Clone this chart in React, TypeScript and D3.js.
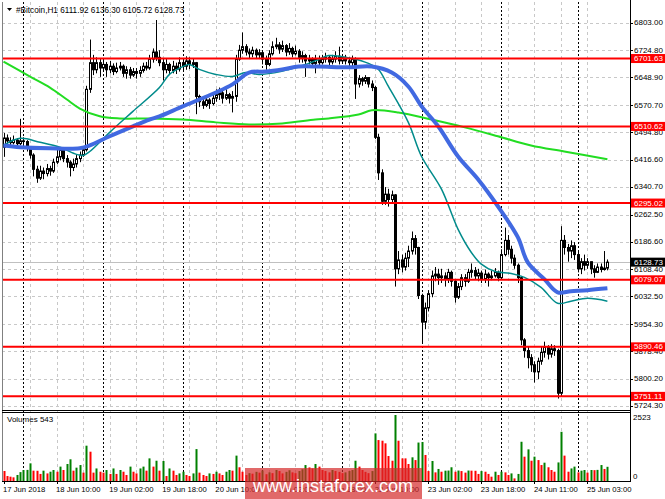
import React from 'react';
import * as d3 from 'd3';

// H1 candles, one bar per hour, 17 Jun 18:00 .. 25 Jun 09:00 (one bar missing on 24 Jun)
const firstOpen = 6452;
const closes = [
  6478, 6470, 6465, 6472, 6462, 6470, 6468, 6450, 6430, 6390,
  6365, 6385, 6378, 6392, 6385, 6410, 6425, 6445, 6420, 6410,
  6395, 6405, 6420, 6430, 6445, 6615, 6690, 6670, 6690, 6675,
  6685, 6670, 6680, 6665, 6675, 6680, 6660, 6670, 6655, 6665,
  6660, 6668, 6680, 6675, 6700, 6720, 6705, 6690, 6670, 6685,
  6668, 6680, 6672, 6690, 6680, 6695, 6685, 6690, 6595, 6580,
  6570, 6585, 6575, 6590, 6600, 6605, 6590, 6600, 6590, 6595,
  6700, 6725, 6735, 6720, 6715, 6725, 6712, 6718, 6700, 6685,
  6715, 6735, 6740, 6728, 6738, 6720, 6730, 6715, 6722, 6705,
  6710, 6695, 6700, 6688, 6700, 6690, 6700, 6705, 6692, 6700,
  6708, 6695, 6705, 6695, 6690, 6700, 6630, 6645, 6638, 6648,
  6630, 6620, 6480, 6380, 6300, 6320, 6305, 6318, 6110, 6135,
  6115, 6140, 6160, 6195, 6170, 6035, 5960, 6000, 6040, 6090,
  6095, 6085, 6090, 6080, 6100, 6075, 6030, 6060, 6085, 6075,
  6100, 6105, 6090, 6098, 6080, 6095, 6085, 6090, 6100, 6085,
  6150, 6190, 6165, 6140, 6120, 6085, 5910, 5880, 5860, 5840,
  5820, 5850, 5875, 5890, 5870, 5885, 5880, 5760, 6190, 6170,
  6160, 6175, 6150, 6110, 6130, 6120, 6130, 6110, 6100, 6115,
  6108, 6111.92, 6128.73,
];
const highs = [
  6492, 6488, 6480, 6485, 6478, 6532, 6480, 6472, 6455, 6435,
  6400, 6400, 6395, 6405, 6400, 6420, 6445, 6450, 6448, 6430,
  6415, 6420, 6430, 6440, 6455, 6625, 6755, 6712, 6705, 6700,
  6700, 6692, 6695, 6688, 6690, 6692, 6685, 6680, 6678, 6675,
  6675, 6680, 6690, 6692, 6712, 6730, 6810, 6725, 6700, 6700,
  6690, 6695, 6690, 6705, 6700, 6708, 6705, 6700, 6692, 6600,
  6595, 6598, 6590, 6605, 6615, 6620, 6612, 6615, 6605, 6610,
  6712, 6740, 6775, 6742, 6730, 6735, 6730, 6728, 6722, 6710,
  6725, 6750, 6760, 6748, 6752, 6742, 6745, 6735, 6738, 6728,
  6722, 6715, 6712, 6705, 6712, 6710, 6712, 6718, 6710, 6712,
  6722, 6735, 6712, 6712, 6705, 6710, 6705, 6655, 6650, 6655,
  6648, 6640, 6625, 6490, 6390, 6340, 6335, 6330, 6320, 6160,
  6150, 6155, 6175, 6215, 6205, 6172, 6040, 6015, 6050, 6105,
  6115, 6110, 6110, 6100, 6110, 6105, 6080, 6070, 6095, 6095,
  6110, 6125, 6115, 6110, 6105, 6108, 6100, 6105, 6112, 6105,
  6165, 6226, 6205, 6175, 6150, 6125, 6090, 5915, 5890, 5870,
  5850, 5860, 5890, 5905, 5895, 5898, 5895, 5885, 6230, 6205,
  6180, 6190, 6185, 6160, 6140, 6150, 6140, 6130, 6120, 6125,
  6125, 6160, 6136.3,
];
const lows = [
  6425, 6460, 6455, 6460, 6455, 6458, 6455, 6440, 6420, 6370,
  6352, 6360, 6362, 6370, 6372, 6380, 6405, 6415, 6410, 6395,
  6370, 6385, 6395, 6410, 6425, 6440, 6605, 6655, 6660, 6650,
  6665, 6650, 6660, 6655, 6660, 6668, 6650, 6645, 6645, 6650,
  6645, 6650, 6662, 6668, 6670, 6690, 6695, 6680, 6640, 6660,
  6655, 6660, 6658, 6665, 6668, 6670, 6672, 6675, 6545, 6565,
  6560, 6565, 6560, 6570, 6580, 6585, 6575, 6585, 6575, 6550,
  6580, 6695, 6715, 6710, 6700, 6705, 6700, 6700, 6685, 6670,
  6680, 6710, 6728, 6715, 6720, 6708, 6712, 6705, 6710, 6690,
  6690, 6650, 6685, 6675, 6660, 6678, 6685, 6690, 6680, 6685,
  6690, 6685, 6690, 6685, 6675, 6680, 6588, 6620, 6625, 6630,
  6620, 6610, 6475, 6360, 6290, 6290, 6285, 6295, 6060, 6095,
  6100, 6105, 6115, 6150, 6150, 6025, 5903, 5940, 5990, 6030,
  6075, 6065, 6070, 6060, 6070, 6060, 6015, 6025, 6050, 6060,
  6070, 6085, 6080, 6075, 6070, 6070, 6060, 6078, 6085, 6075,
  6080, 6145, 6150, 6125, 6110, 6070, 5895, 5860, 5830, 5820,
  5790, 5800, 5840, 5860, 5855, 5860, 5865, 5745, 5750, 6150,
  6130, 6140, 6135, 6100, 6095, 6105, 6110, 6095, 6085, 6098,
  6100, 6105, 6105.72,
];
const volumes = [
  382, 190, 165, 140, 230, 340, 420, 425, 675, 395,
  390, 270, 395, 290, 355, 420, 355, 550, 420, 650,
  830, 395, 510, 610, 320, 1350, 1120, 320, 480, 355,
  320, 420, 270, 480, 270, 420, 355, 230, 550, 355,
  290, 480, 550, 395, 865, 550, 775, 395, 765, 190,
  480, 395, 230, 290, 355, 230, 190, 290, 1220, 320,
  230, 190, 290, 270, 355, 290, 230, 355, 420, 395,
  970, 525, 355, 230, 300, 280, 350, 320, 400, 260,
  330, 300, 420, 380, 290, 350, 410, 330, 300, 380,
  450, 610, 520, 480, 650, 550, 420, 380, 330, 420,
  380, 350, 300, 330, 380, 420, 775, 550, 420, 350,
  300, 380, 1820, 1565, 1540, 1440, 955, 775, 2523, 1540,
  865, 865, 650, 905, 800, 1470, 1490, 995, 380, 765,
  330, 460, 355, 395, 400, 525, 355, 400, 380, 320,
  400, 395, 390, 270, 380, 355, 270, 165, 355, 230,
  355, 330, 230, 290, 100, 270, 1500, 930, 1210, 775,
  930, 800, 610, 700, 525, 420, 355, 710, 1880, 970,
  355, 480, 550, 330, 395, 420, 320, 420, 415, 425,
  610, 460, 543,
];

// moving averages as [bar, price]
const maSlow = [
  [0, 6693], [8, 6651], [14, 6620], [19, 6587], [23, 6561], [29, 6539], [35, 6533],
  [44, 6533], [54, 6530], [64, 6522], [74, 6516], [84, 6519], [94, 6530], [98, 6533],
  [107, 6544], [111, 6556], [119, 6550], [129, 6530], [139, 6508], [149, 6483],
  [159, 6457], [169, 6440], [182, 6418],
];
const maFast = [
  [0, 6457], [5, 6477], [11, 6466], [17, 6452], [22, 6432], [24, 6429], [26, 6440],
  [32, 6494], [39, 6553], [47, 6620], [50, 6657], [54, 6679], [56, 6685], [59, 6671],
  [64, 6657], [69, 6651], [73, 6662], [77, 6657], [82, 6662], [86, 6671], [91, 6685],
  [95, 6699], [98, 6710], [105, 6702], [110, 6688], [113, 6671], [116, 6623],
  [122, 6522], [126, 6426], [132, 6334], [137, 6221], [141, 6156], [144, 6123],
  [148, 6103], [153, 6097], [157, 6086], [162, 6058], [167, 6013], [171, 6019],
  [176, 6027], [182, 6019],
];
const maMid = [
  [0, 6457], [5, 6452], [14, 6449], [23, 6449], [26, 6457], [32, 6483], [39, 6511],
  [44, 6530], [47, 6539], [54, 6567], [64, 6606], [69, 6629], [74, 6662], [79, 6665],
  [84, 6671], [89, 6679], [95, 6679], [104, 6677], [111, 6679], [117, 6662],
  [122, 6623], [126, 6567], [131, 6511], [137, 6426], [143, 6362], [149, 6286],
  [155, 6199], [158, 6128], [163, 6081], [167, 6044], [171, 6047], [176, 6050],
  [182, 6055],
];

const priceTicks = [6803.0, 6724.8, 6648.9, 6570.7, 6494.8, 6416.6, 6340.7, 6262.5,
  6186.6, 6108.4, 6032.5, 5954.3, 5878.4, 5800.2, 5724.3];
const levels = [6701.63, 6510.62, 6295.02, 6079.07, 5890.46, 5751.11];
const lastPrice = 6128.73;
const timeLabelBars = [0, 16, 32, 48, 64, 80, 96, 112, 128, 144, 160, 176];
const timeLabels = ['17 Jun 2018', '18 Jun 10:00', '19 Jun 02:00', '19 Jun 18:00',
  '20 Jun 10:00', '21 Jun 02:00', '21 Jun 18:00', '22 Jun 10:00', '23 Jun 02:00',
  '23 Jun 18:00', '24 Jun 11:00', '25 Jun 03:00'];
const daySeparatorBars = [6, 30, 54, 78, 102, 126, 150, 173];
const volumeMax = 2523;

const W = 665;
const H = 499;
const left = 2;
const axisX = 630;
const priceTop = 2;
const priceBottom = 410;
const volTop = 412;
const volBottom = 481;
const font = '"Liberation Sans", Arial, sans-serif';

const App: React.FC = () => {
  const n = closes.length;
  const x = d3.scaleLinear().domain([0, n - 1]).range([3.5, 607.4]);
  const y = d3.scaleLinear().domain([5724.3, 6803]).range([405.9, 22.5]);
  const vy = d3.scaleLinear().domain([0, volumeMax]).range([volBottom, 415]);

  const candles = closes.map((c, i) => ({
    i, o: i === 0 ? firstOpen : closes[i - 1], h: highs[i], l: lows[i], c,
  }));

  const maLine = d3.line<number[]>()
    .x(d => x(d[0]))
    .y(d => y(d[1]))
    .curve(d3.curveCatmullRom.alpha(0.5));

  const gridBars = d3.range(8, n, 8);
  const px = (v: number) => Math.round(v) + 0.5;

  return (
    <svg width={W} height={H} style={{ position: 'absolute', left: 0, top: 0, background: '#fff' }}
      fontFamily={font}>
      <rect x={0} y={0} width={W} height={H} fill="#fff" />

      {/* grid */}
      <g stroke="#c8c8c8" strokeDasharray="3,3" strokeWidth={1}>
        {priceTicks.map(t => (
          <line key={t} x1={left} x2={axisX} y1={px(y(t))} y2={px(y(t))} />
        ))}
        {gridBars.map(b => (
          <line key={b} x1={px(x(b))} x2={px(x(b))} y1={priceTop} y2={volBottom} />
        ))}
      </g>
      <g stroke="#000" strokeDasharray="2,2" strokeWidth={1}>
        {daySeparatorBars.map(b => (
          <line key={b} x1={px(x(b))} x2={px(x(b))} y1={priceTop} y2={volBottom} />
        ))}
      </g>

      {/* current price line */}
      <line x1={left} x2={axisX} y1={px(y(lastPrice))} y2={px(y(lastPrice))} stroke="#c0c0c0" />

      {/* candles */}
      <g>
        {candles.map(d => {
          const cx = px(x(d.i));
          const top = y(Math.max(d.o, d.c));
          const bot = y(Math.min(d.o, d.c));
          const bull = d.c >= d.o;
          return (
            <g key={d.i}>
              <line x1={cx} x2={cx} y1={y(d.h)} y2={y(d.l)} stroke="#000" />
              <rect x={cx - 1} y={top} width={2} height={Math.max(bot - top, 0.5)}
                fill={bull ? '#fff' : '#000'} stroke="#000" strokeWidth={1} />
            </g>
          );
        })}
      </g>

      {/* moving averages */}
      <path d={maLine(maSlow) || ''} fill="none" stroke="#22dd22" strokeWidth={2} />
      <path d={maLine(maFast) || ''} fill="none" stroke="#008b8b" strokeWidth={1.5} />
      <path d={maLine(maMid) || ''} fill="none" stroke="#4169e1" strokeWidth={4} />

      {/* levels */}
      {levels.map(l => (
        <line key={l} x1={left} x2={axisX} y1={y(l)} y2={y(l)} stroke="#ff0000" strokeWidth={2} />
      ))}

      {/* volumes */}
      <g>
        {volumes.map((v, i) => (
          <rect key={i} x={Math.round(x(i)) - 0.5} y={vy(v)} width={2} height={volBottom - vy(v)}
            fill={i > 0 && v > volumes[i - 1] ? '#008000' : '#ff0000'} />
        ))}
      </g>

      {/* frames */}
      <g stroke="#000" fill="none" strokeWidth={1}>
        <line x1={left + 0.5} x2={left + 0.5} y1={priceTop} y2={volBottom} stroke="#808080" />
        <line x1={axisX + 0.5} x2={axisX + 0.5} y1={0} y2={volBottom + 0.5} />
        <line x1={left} x2={axisX} y1={priceBottom + 0.5} y2={priceBottom + 0.5} />
        <line x1={left} x2={axisX} y1={volTop + 0.5} y2={volTop + 0.5} />
        <line x1={left} x2={axisX + 1} y1={volBottom + 0.5} y2={volBottom + 0.5} />
      </g>

      {/* price axis */}
      <g fontSize={8} fill="#000">
        {priceTicks.map(t => (
          <g key={t}>
            <line x1={axisX} x2={axisX + 3} y1={px(y(t))} y2={px(y(t))} stroke="#000" />
            <text x={634} y={y(t)} dominantBaseline="central">{t.toFixed(2)}</text>
          </g>
        ))}
      </g>
      {levels.map(l => (
        <g key={l}>
          <rect x={631} y={y(l) - 4.5} width={34} height={9} fill="#ff0000" />
          <text x={634} y={y(l)} dominantBaseline="central" fontSize={8} fill="#fff">{l.toFixed(2)}</text>
        </g>
      ))}
      <rect x={631} y={y(lastPrice) - 4.5} width={34} height={9} fill="#000" />
      <text x={634} y={y(lastPrice)} dominantBaseline="central" fontSize={8} fill="#fff">
        {lastPrice.toFixed(2)}
      </text>

      {/* volume axis */}
      <text x={633} y={417} dominantBaseline="central" fontSize={8}>{volumeMax}</text>
      <text x={633} y={476} dominantBaseline="central" fontSize={8}>0</text>
      <text x={7} y={419} dominantBaseline="central" fontSize={8}>Volumes {volumes[n - 1]}</text>

      {/* time axis */}
      <g fontSize={7.7}>
        {timeLabelBars.map((b, k) => (
          <g key={b}>
            <line x1={px(x(b))} x2={px(x(b))} y1={volBottom} y2={volBottom + 3} stroke="#000" />
            <text x={x(b) - 0.5} y={489} dominantBaseline="central">{timeLabels[k]}</text>
          </g>
        ))}
      </g>

      {/* header */}
      <path d="M7,8 L12,8 L9.5,11 Z" fill="#000" />
      <text x={16} y={10} dominantBaseline="central" fontSize={8.2}>
        #Bitcoin,H1  {closes[n - 2].toFixed(2)} {highs[n - 1].toFixed(2)} {lows[n - 1].toFixed(2)} {closes[n - 1].toFixed(2)}
      </text>

      {/* watermark */}
      <rect x={245} y={468} width={177} height={31} fill="#d42a2a" opacity={0.7} />
      <text x={253} y={486} dominantBaseline="central" fontSize={18} fill="#fff">www.instaforex.com</text>
    </svg>
  );
};

export default App;
